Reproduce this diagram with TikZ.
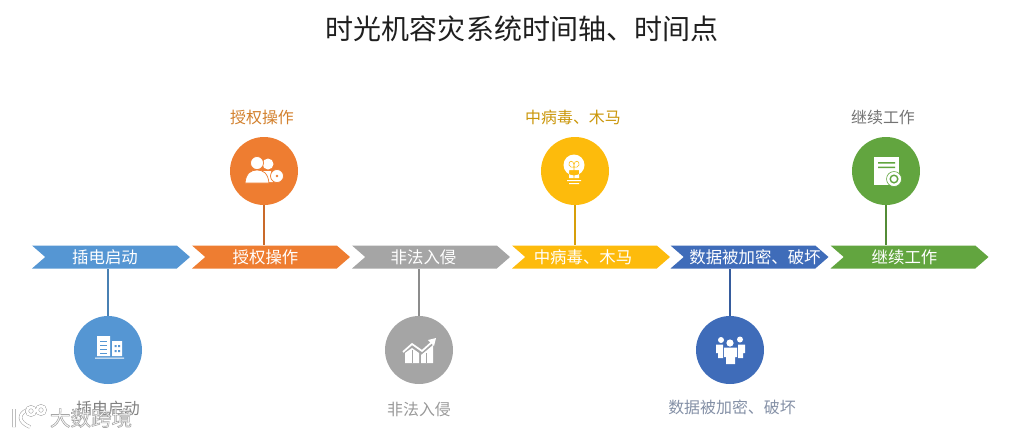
\documentclass[tikz,border=0pt]{standalone}
\usepackage{fontspec}
\setmainfont{Noto Sans CJK SC}
\usetikzlibrary{shapes.symbols}
\definecolor{stepblue}{HTML}{5596D3}
\definecolor{steporange}{HTML}{EE7D31}
\definecolor{stepgray}{HTML}{A5A5A5}
\definecolor{stepyellow}{HTML}{FDBB0C}
\definecolor{stepnavy}{HTML}{3F6CB9}
\definecolor{stepgreen}{HTML}{62A53F}
\tikzset{
  banner/.style={signal,signal from=west,signal to=east,signal pointer angle=82,draw=none,fill=#1,inner sep=0pt,minimum width=4.74cm,minimum height=.69cm},
  bannertext/.style={text=white,inner sep=0pt,font=\fontsize{14}{16}\selectfont},
  disc/.style={circle,fill=#1,inner sep=0pt,minimum size=2.04cm},
  stem/.style={line width=2.5pt,draw=#1!85!black},
  caption/.style={text=#1,inner sep=0pt,font=\fontsize{13.6}{16}\selectfont},
  wmark/.style={draw=black!40,line width=.4pt,double=white,double distance=2.2pt}
}
\begin{document}
\begin{tikzpicture}[x=.03cm,y=-.03cm]
\useasboundingbox (0,0) rectangle (1024,436);
\node[inner sep=0pt,text=black!88,font=\fontsize{23.9}{28}\selectfont] (title) at (522,29) {时光机容灾系统时间轴、时间点};
\node[banner=stepblue] (b1) at (111,257) {};
\node[banner=steporange] (b2) at (271,257) {};
\node[banner=stepgray] (b3) at (431,257) {};
\node[banner=stepyellow] (b4) at (591,257) {};
\node[banner=stepnavy] (b5) at (749.5,257) {};
\node[banner=stepgreen] (b6) at (909.5,257) {};
\node[bannertext] (t1) at (105,257) {插电启动};
\node[bannertext] (t2) at (265.5,257) {授权操作};
\node[bannertext] (t3) at (423.5,257) {非法入侵};
\node[bannertext] (t4) at (583,257) {中病毒、木马};
\node[bannertext] (t5) at (755,257) {数据被加密、破坏};
\node[bannertext] (t6) at (904.5,257) {继续工作};
\node[disc=stepblue] (c1) at (108,350) {};
\node[disc=steporange] (c2) at (264,171) {};
\node[disc=stepgray] (c3) at (419,350) {};
\node[disc=stepyellow] (c4) at (575,171) {};
\node[disc=stepnavy] (c5) at (730,350) {};
\node[disc=stepgreen] (c6) at (886,171) {};
\draw[stem=stepblue] (c1.north) -- (c1.north |- b1.south);
\draw[stem=steporange] (c2.south) -- (c2.south |- b2.north);
\draw[stem=stepgray] (c3.north) -- (c3.north |- b3.south);
\draw[stem=stepyellow] (c4.south) -- (c4.south |- b4.north);
\draw[stem=stepnavy] (c5.north) -- (c5.north |- b5.south);
\draw[stem=stepgreen] (c6.south) -- (c6.south |- b6.north);
\node[caption=black!50] (l1) at (108,408) {插电启动};
\node[caption=brown!70!orange] (l2) at (262,117) {授权操作};
\node[caption=black!40] (l3) at (419,409) {非法入侵};
\node[caption=stepyellow!80!black] (l4) at (573,117) {中病毒、木马};
\node[caption=stepnavy!50!black!55] (l5) at (732,407) {数据被加密、破坏};
\node[caption=black!55] (l6) at (883,117) {继续工作};
% building
\fill[white] (97,336) rectangle (110,356) (112,341) rectangle (122,356) (95,357.5) rectangle (124,358.5);
\draw[stepblue,line width=.5pt] (100,341) -- (107,341) (100,345) -- (107,345) (100,349) -- (107,349) (100,353) -- (107,353);
\fill[stepblue] (114.5,345) rectangle +(2,2) (118,345) rectangle +(2,2) (114.5,350) rectangle +(2,2) (118,350) rectangle +(2,2);
% people
\fill[white] (268,164) circle (5.5) (262,171) -- (271,171) -- (273,182) -- (262,182) -- cycle;
\fill[white,draw=steporange,line width=.6pt] (257,163) circle (6.5) (245,183) .. controls (246,173) and (251,170) .. (257,170) .. controls (263,170) and (268,173) .. (269,183) -- cycle;
\fill[white,draw=steporange,line width=.6pt] (277,176) circle (6.5);
\fill[steporange] (277,176) circle (1.4);
% chart
\fill[white] (405,363) -- (405,353) -- (412,348) -- (419,353) -- (419,363) -- cycle (421,363) -- (421,355) -- (426,351) -- (433,345) -- (433,363) -- cycle;
\draw[white,line width=1.5pt] (403,352) -- (412,344) -- (422,351) -- (432,342);
\fill[white] (436,338) -- (434,346) -- (428,340) -- cycle;
\draw[stepgray,line width=.6pt] (412,350) -- (412,363) (426,353) -- (426,363);
% bulb
\fill[white] (574,165) circle (10.5) (569,170) rectangle (579,178);
\fill[white] (567,180) rectangle (581,181.2) (569,183) rectangle (579,184.2);
\draw[stepyellow,line width=.5pt] (574,178) -- (574,165) (574,165) .. controls (574,160) and (568,160) .. (569,165) .. controls (570,168) and (572,167) .. (574,167) (574,165) .. controls (574,160) and (580,160) .. (579,165) .. controls (578,168) and (576,167) .. (574,167);
% team
\fill[white] (730,343) circle (3.6) (724,347.5) rectangle (737,357) (726,357) rectangle (735,364);
\fill[white] (721,340) circle (3) (716,344.5) rectangle (723,353) (718,353) rectangle (723,358);
\fill[white] (740,339.5) circle (3) (738,344.5) rectangle (745,353) (738,353) rectangle (743,358);
% document
\fill[white] (874,157) rectangle (899,185);
\fill[stepgreen] (878,162) rectangle (895,163.5) (878,166.5) rectangle (895,168);
\fill[white,draw=stepgreen,line width=.5pt] (894,179) circle (7.5);
\draw[stepgreen,line width=1.2pt] (894,179) circle (3.8);
% watermark
\draw[wmark] (14,409) -- (14,427) (27,410) .. controls (18,414) and (18,422) .. (30,427);
\draw[wmark] (31,411) circle (4) (41,410) circle (4);
\node[inner sep=0pt,text=white,font=\fontsize{17.5}{20}\selectfont] (wm) at (91,418) {\special{pdf:code 2 Tr 0.5 w 0.65 G}大数跨境\special{pdf:code 0 Tr 0 G}};
\end{tikzpicture}
\end{document}
